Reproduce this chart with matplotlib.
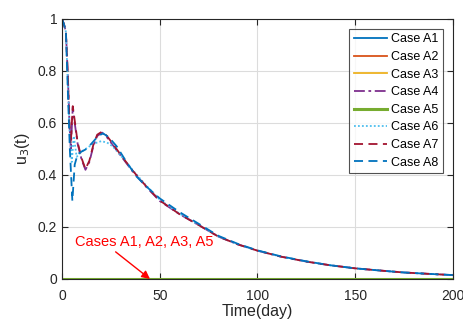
import matplotlib
matplotlib.use("Agg")
import matplotlib.pyplot as plt
import numpy as np

# ---- data ----
t_zero = [0, 200]
u_zero = [0, 0]

t_a4 = [0, 1, 2, 3, 3.8, 4.5, 5.5, 6.5, 8, 10, 12, 14, 16, 18, 20.5, 23, 26, 30, 36, 43, 50, 60, 70, 80, 90, 100, 112, 125, 137, 150, 162, 175, 187, 200]
u_a4 = [1, 0.98, 0.95, 0.78, 0.6, 0.5, 0.66, 0.6, 0.52, 0.46, 0.42, 0.45, 0.51, 0.55, 0.563, 0.545, 0.515, 0.475, 0.415, 0.355, 0.30, 0.25, 0.207, 0.163, 0.133, 0.109, 0.086, 0.067, 0.053, 0.041, 0.033, 0.025, 0.02, 0.015]

t_a7 = t_a4
u_a7 = [1, 0.98, 0.95, 0.78, 0.6, 0.52, 0.665, 0.61, 0.525, 0.465, 0.423, 0.455, 0.515, 0.555, 0.567, 0.55, 0.52, 0.478, 0.418, 0.357, 0.302, 0.25, 0.207, 0.163, 0.133, 0.109, 0.086, 0.067, 0.053, 0.041, 0.033, 0.025, 0.02, 0.015]

t_a6 = [0, 1, 2, 3, 4, 5, 6, 7.5, 10, 13, 16, 20, 23, 26, 30, 36, 43, 50, 60, 70, 80, 90, 100, 112, 125, 137, 150, 162, 175, 187, 200]
u_a6 = [1, 0.98, 0.95, 0.75, 0.55, 0.45, 0.55, 0.47, 0.49, 0.505, 0.52, 0.53, 0.525, 0.51, 0.475, 0.42, 0.36, 0.305, 0.252, 0.208, 0.164, 0.133, 0.109, 0.086, 0.067, 0.053, 0.041, 0.033, 0.025, 0.02, 0.015]

t_a8 = [0, 1, 2, 3, 4, 5.3, 6.5, 8, 10, 12.5, 15, 18.5, 21, 24, 28, 33, 38, 44, 50, 60, 70, 80, 90, 100, 112, 125, 137, 150, 162, 175, 187, 200]
u_a8 = [1, 0.98, 0.95, 0.72, 0.5, 0.30, 0.44, 0.48, 0.49, 0.50, 0.52, 0.55, 0.56, 0.545, 0.51, 0.45, 0.395, 0.35, 0.31, 0.258, 0.212, 0.166, 0.135, 0.11, 0.087, 0.068, 0.053, 0.041, 0.033, 0.025, 0.02, 0.015]

labels = ["Case A1", "Case A2", "Case A3", "Case A4", "Case A5", "Case A6", "Case A7", "Case A8"]
x_ticks = [0, 50, 100, 150, 200]
y_ticks = [0, 0.2, 0.4, 0.6, 0.8, 1]
y_ticklabels = ["0", "0.2", "0.4", "0.6", "0.8", "1"]

plt.rcParams['font.family'] = ['Liberation Sans', 'DejaVu Sans']

fig = plt.figure(figsize=(4.64, 3.22), dpi=100)
ax = fig.add_axes([62/464, 1-279/322, (453-62)/464, (279-19)/322])

lw = 1.3
ax.plot(t_zero, u_zero, color='#0072BD', lw=lw, label=labels[0])
ax.plot(t_zero, u_zero, color='#D95319', lw=lw, label=labels[1])
ax.plot(t_zero, u_zero, color='#EDB120', lw=lw, label=labels[2])
ax.plot(t_a4, u_a4, color='#7E2F8E', lw=lw, ls=(0, (6, 2, 1.5, 2)), label=labels[3])
ax.plot(t_zero, u_zero, color='#77AC30', lw=2.2, label=labels[4])
ax.plot(t_a6, u_a6, color='#4DBEEE', lw=lw, ls=(0, (1, 1.2)), label=labels[5])
ax.plot(t_a7, u_a7, color='#A2142F', lw=lw, ls=(0, (5, 3)), label=labels[6])
ax.plot(t_a8, u_a8, color='#0072BD', lw=lw, ls=(0, (5, 3)), label=labels[7])

ax.set_xlim(0, 200)
ax.set_ylim(0, 1)
ax.set_xticks(x_ticks)
ax.set_yticks(y_ticks)
ax.set_yticklabels(y_ticklabels)
ax.grid(True, color='#dcdcdc', lw=0.8)
ax.set_axisbelow(True)
ax.tick_params(direction='in', top=True, right=True, labelsize=10, colors='#262626', length=4)
ax.tick_params(axis='x', pad=7)
for s in ax.spines.values():
    s.set_color('#262626')
    s.set_linewidth(0.8)

ax.set_xlabel("Time(day)", fontsize=11.5, color='#262626', labelpad=1)
ax.set_ylabel("u$_3$(t)", fontsize=11.5, color='#262626', labelpad=4)

leg = ax.legend(loc='upper right', fontsize=9, frameon=True, fancybox=False,
                edgecolor='#262626', handlelength=2.7, handletextpad=0.3,
                labelspacing=0.45, borderpad=0.35, borderaxespad=0.8)
leg.get_frame().set_linewidth(0.8)

ax.annotate("Cases A1, A2, A3, A5", xy=(45, 0), xytext=(6.5, 0.142),
            fontsize=10.5, color='red', va='center', ha='left',
            arrowprops=dict(arrowstyle='-|>', color='red', lw=1.0,
                            shrinkA=0, shrinkB=0, mutation_scale=12,
                            relpos=(0.27, 0.0)))

fig.savefig("out.png", dpi=100)
